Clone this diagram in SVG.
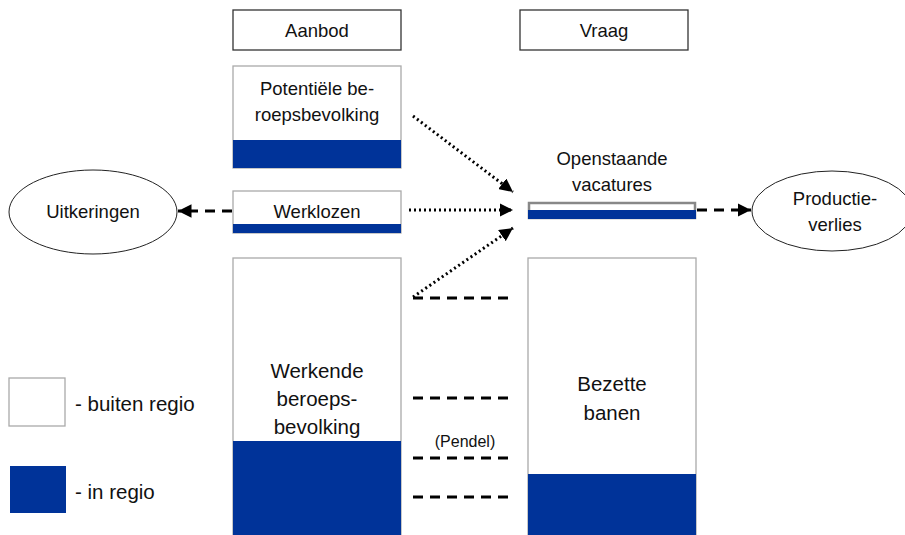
<svg xmlns="http://www.w3.org/2000/svg" width="905" height="535" viewBox="0 0 905 535">
<style>
text{font-family:"Liberation Sans",Arial,sans-serif;font-size:18.5px;fill:#111;text-anchor:middle}
.big{font-size:20.5px}
.hdr{fill:#fff;stroke:#333;stroke-width:1.3}
.box{fill:#fff;stroke:#aaa;stroke-width:1.3}
.blue{fill:#003399}
.dot{stroke:#000;stroke-width:3;stroke-dasharray:2 3;fill:none}
.dash{stroke:#000;stroke-width:3;stroke-dasharray:10 7;fill:none}
.ell{fill:#fff;stroke:#222;stroke-width:1}
</style>
<defs>
<marker id="ah" viewBox="0 0 10 10" refX="10" refY="5" markerWidth="4.5" markerHeight="4.5" orient="auto"><path d="M0,0 L10,5 L0,10 z" fill="#000"/></marker>
</defs>
<g id="aanbod"><rect class="hdr" x="233" y="10" width="168" height="40"/><text x="317" y="37">Aanbod</text></g>
<g id="vraag"><rect class="hdr" x="520" y="10" width="168" height="40"/><text x="604" y="37">Vraag</text></g>
<g id="potentiele"><rect class="box" x="233" y="66" width="168" height="102"/><rect class="blue" x="233" y="140" width="168" height="28"/><text x="317" y="95">Potentiële be-</text><text x="317" y="121">roepsbevolking</text></g>
<g id="werklozen"><rect class="box" x="233" y="191" width="168" height="42"/><rect class="blue" x="233" y="224" width="168" height="9"/><text x="317" y="218">Werklozen</text></g>
<g id="werkende"><rect class="box" x="233" y="258" width="168" height="280"/><rect class="blue" x="233" y="441" width="168" height="97"/><text class="big" x="317" y="378">Werkende</text><text class="big" x="317" y="406">beroeps-</text><text class="big" x="317" y="434">bevolking</text></g>
<g id="bezette"><rect class="box" x="528" y="258" width="168" height="280"/><rect class="blue" x="528" y="474" width="168" height="64"/><text class="big" x="612" y="391">Bezette</text><text class="big" x="612" y="420">banen</text></g>
<g id="vacatures"><text x="612" y="165">Openstaande</text><text x="612" y="191">vacatures</text><rect x="529" y="203" width="166" height="15" fill="#fff" stroke="#888" stroke-width="2.5"/><rect class="blue" x="528" y="210" width="168" height="9"/></g>
<g id="uitkeringen"><ellipse class="ell" cx="93" cy="212" rx="84" ry="42"/><text x="93" y="218">Uitkeringen</text></g>
<g id="productieverlies"><ellipse class="ell" cx="832" cy="211" rx="80" ry="40"/><text x="835" y="205">Productie-</text><text x="835" y="231">verlies</text></g>
<g id="legend"><rect class="box" x="9" y="378" width="56" height="48"/><text class="big" x="75" y="411" style="text-anchor:start">- buiten regio</text><rect class="blue" x="10" y="466" width="56" height="47"/><text class="big" x="75" y="499" style="text-anchor:start">- in regio</text></g>
<g id="connectors">
<line class="dot" x1="413" y1="116" x2="513" y2="192" marker-end="url(#ah)"/>
<line class="dot" x1="409" y1="210" x2="513" y2="210" marker-end="url(#ah)"/>
<line class="dot" x1="413" y1="297" x2="513" y2="228" marker-end="url(#ah)"/>
<line class="dash" x1="232" y1="211" x2="178" y2="211" marker-end="url(#ah)"/>
<line class="dash" x1="697" y1="210" x2="751" y2="210" marker-end="url(#ah)"/>
<line class="dash" x1="413" y1="298" x2="510" y2="298"/>
<line class="dash" x1="413" y1="398" x2="510" y2="398"/>
<line class="dash" x1="413" y1="458" x2="510" y2="458"/>
<line class="dash" x1="413" y1="497" x2="510" y2="497"/>
<text x="465" y="447" style="font-size:16px">(Pendel)</text>
</g>
</svg>
